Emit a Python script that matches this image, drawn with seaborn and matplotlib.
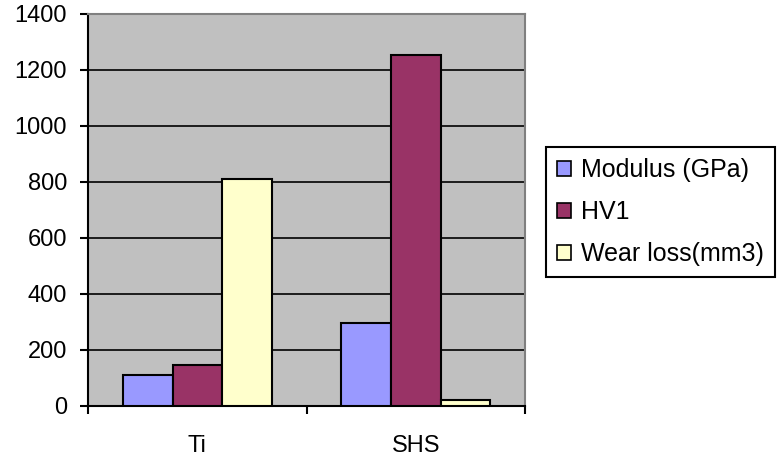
import matplotlib.pyplot as plt
import numpy as np
import pandas as pd
import seaborn as sns

materials = ["Ti", "SHS"]
series = ["Modulus (GPa)", "HV1", "Wear loss(mm3)"]
modulus = [110, 297]
hv1 = [148, 1252]
wear_loss = [812, 20]
colors = ["#9999FF", "#993366", "#FFFFCC"]

rows = []
for name, vals in zip(series, [modulus, hv1, wear_loss]):
    for m, v in zip(materials, vals):
        rows.append([m, v, name])
df = pd.DataFrame(rows, columns=["material", "value", "series"])

sns.set_style("ticks")
plt.rcParams["font.family"] = ["Liberation Sans", "DejaVu Sans"]
plt.rcParams["text.color"] = "black"
plt.rcParams["xtick.color"] = "black"
plt.rcParams["ytick.color"] = "black"

fig = plt.figure(figsize=(7.77, 4.65), dpi=100)
ax = fig.add_axes([0.1133, 0.127, 0.5624, 0.843])
ax.set_facecolor("#C0C0C0")

sns.barplot(
    data=df,
    x="material",
    y="value",
    hue="series",
    palette=colors,
    width=0.68,
    edgecolor="black",
    linewidth=1.5,
    saturation=1,
    ax=ax,
    zorder=3,
)

ax.set_ylim(0, 1400)
ax.set_xlim(-0.5, 1.5)
ax.set_yticks(np.arange(0, 1401, 200))
ax.yaxis.grid(True, color="black", linewidth=1.2, zorder=0)
ax.set_axisbelow(True)

# ticks between categories, labels centred
ax.set_xticks([-0.5, 0.5, 1.5])
ax.set_xticklabels([])
ax.set_xticks([0, 1], minor=True)
ax.set_xticklabels(materials, minor=True)
ax.tick_params(axis="x", which="minor", length=0, pad=21, labelsize=17)
ax.tick_params(axis="x", which="major", length=6, width=1.5, direction="out")
ax.tick_params(axis="y", length=6, width=1.5, direction="out", labelsize=17, pad=9)

ax.set_xlabel("")
ax.set_ylabel("")

for side in ["left", "bottom"]:
    ax.spines[side].set_color("black")
    ax.spines[side].set_linewidth(1.5)
for side in ["top", "right"]:
    ax.spines[side].set_visible(True)
    ax.spines[side].set_color("#808080")
    ax.spines[side].set_linewidth(1.5)

handles, labels = ax.get_legend_handles_labels()
for h in handles:
    h.set_linewidth(1.2)
ax.legend(
    handles,
    labels,
    loc="upper left",
    bbox_to_anchor=(1.048, 0.661),
    frameon=True,
    fancybox=False,
    edgecolor="black",
    framealpha=1,
    fontsize=18,
    handlelength=0.55,
    handleheight=0.55,
    handletextpad=0.4,
    labelspacing=0.72,
    borderpad=0.45,
    borderaxespad=0,
)
ax.get_legend().get_frame().set_linewidth(1.5)

fig.savefig("out.png", dpi=100)
